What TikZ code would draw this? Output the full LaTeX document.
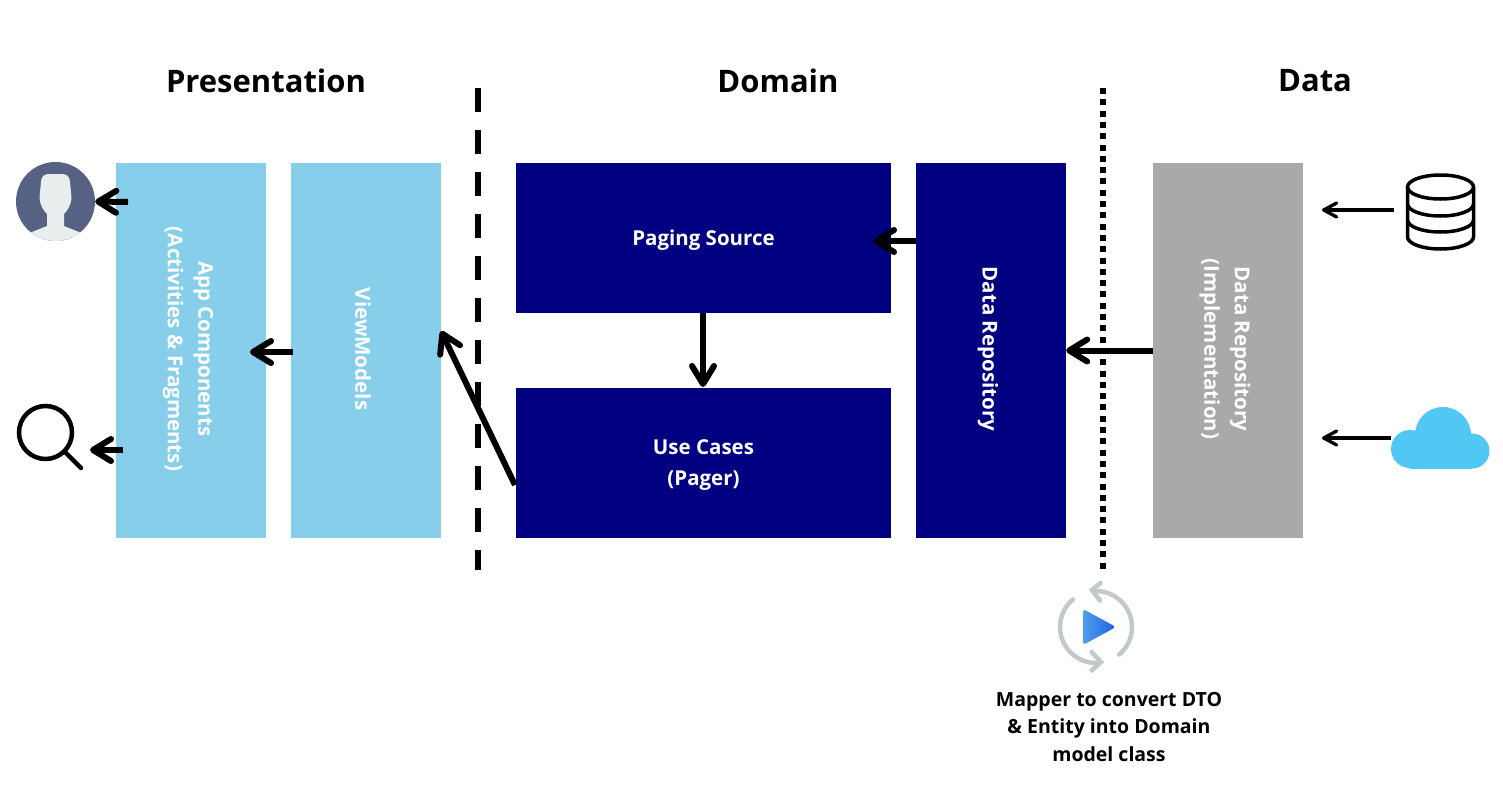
\documentclass[tikz,border=0pt]{standalone}
\usepackage{xcolor}
\usepackage{fontspec}
\setmainfont{Open Sans}
\usetikzlibrary{arrows.meta}
\definecolor{lightbox}{HTML}{87CEEB}
\definecolor{navybox}{HTML}{000080}
\definecolor{greybox}{HTML}{A9A9A9}
\definecolor{userbg}{HTML}{566183}
\definecolor{userfg}{HTML}{E8EDEE}
\definecolor{cloudblue}{HTML}{50C8F3}
\definecolor{syncgrey}{HTML}{C2C9CB}
\definecolor{playlight}{HTML}{4F9FEA}
\definecolor{playdark}{HTML}{1F60E2}
\tikzset{
  title/.style={font=\bfseries\fontsize{31}{36}\selectfont, anchor=center},
  tierbox/.style={minimum width=150pt, minimum height=375pt, inner sep=0pt},
  widebox/.style={tierbox, minimum width=375pt, minimum height=150pt, fill=navybox},
  boxtext/.style={text=white, align=center, inner sep=0pt, font=\bfseries\fontsize{20.5}{30.5}\selectfont},
  sidetext/.style={boxtext, rotate=-90, xshift=-1.5pt, yshift=-3pt},
  flow/.style={line width=6pt, -{Straight Barb[round, length=18pt, width=22pt, line width=6pt]}},
  feed/.style={line width=3.3pt, -{Straight Barb[round, length=13pt, width=14pt, line width=3.3pt]}},
  syncring/.style={syncgrey, line width=4.5pt, line cap=round}
}

\begin{document}
\begin{tikzpicture}[x=1pt, y=-1pt]
  \useasboundingbox (0,0) rectangle (1503,800);
  \fill[white] (0,0) rectangle (1503,800);

  % Column titles
  \node[title] (presentation) at (266,81) {Presentation};
  \node[title] (domain) at (778,81) {Domain};
  \node[title] (data) at (1315,81) {Data};

  % Layer dividers
  \coordinate (dashtop) at (478,88);
  \coordinate (dashend) at (478,570);
  \coordinate (dottop) at (1103,88);
  \coordinate (dotend) at (1103,570);
  \draw[line width=6pt, dash pattern=on 24pt off 18pt] (dashtop) -- (dashend);
  \draw[line width=6pt, dash pattern=on 6pt off 5.3pt] (dottop) -- (dotend);

  % Boxes
  \node[tierbox, fill=lightbox, label={[sidetext]center:{App Components\\(Activities \& Fragments)}}] (app) at (191,350.5) {};
  \node[tierbox, fill=lightbox, label={[sidetext]center:{ViewModels}}] (viewmodels) at (366,350.5) {};
  \node[widebox, label={[boxtext, yshift=-2pt]center:{Paging Source}}] (paging) at (703.5,238) {};
  \node[widebox, label={[boxtext, yshift=-2pt]center:{Use Cases\\(Pager)}}] (usecases) at (703.5,463) {};
  \node[tierbox, fill=navybox, label={[sidetext]center:{Data Repository}}] (repo) at (991,350.5) {};
  \node[tierbox, fill=greybox, label={[sidetext]center:{Data Repository\\(Implementation)}}] (impl) at (1228,350.5) {};

  % User icon
  \node[circle, fill=userbg, minimum size=79pt, inner sep=0pt] (user) at (55.5,201.5) {};
  \begin{scope}
    \clip (55.5,201.5) circle (39.5);
    \fill[userfg] (47,214) -- (47,226) -- (27,234) -- (27,245) -- (84,245) -- (84,234) -- (64,226) -- (64,214)
      .. controls (68,210) and (71,205) .. (71.5,198)
      -- (70,182) .. controls (70,176) and (66,174) .. (62,174)
      -- (49,174) .. controls (45,174) and (41,176) .. (41,182)
      -- (39.5,198) .. controls (40,205) and (43,210) .. (47,214) -- cycle;
  \end{scope}

  % Search icon
  \node[circle, draw, line width=4.5pt, minimum size=53pt, inner sep=0pt] (search) at (45.5,432.5) {};
  \coordinate (handle) at (81,468);
  \draw[line width=4.5pt, line cap=round] (search.-45) -- (handle);

  % Database icon
  \begin{scope}[line width=3.5pt]
    \draw (1440.5,187) ellipse (33 and 12);
    \draw (1407.5,187) -- (1407.5,237) arc[start angle=180, end angle=0, x radius=33, y radius=12] -- (1473.5,187);
    \draw (1407.5,204) arc[start angle=180, end angle=0, x radius=33, y radius=12];
    \draw (1407.5,220) arc[start angle=180, end angle=0, x radius=33, y radius=12];
  \end{scope}

  % Cloud icon
  \fill[cloudblue] (1443,435) circle (28);
  \fill[cloudblue] (1410,449) circle (19);
  \fill[cloudblue] (1472,451) circle (17.5);
  \fill[cloudblue] (1410,445) rectangle (1472,468.5);
  \coordinate (cloud) at (1391,438);

  % Mapper icon
  \coordinate (ringstart) at (1119.1,654.6);
  \coordinate (ringother) at (1072.9,599.4);
  \draw[syncring] (ringstart) arc[start angle=50, end angle=-94, radius=36];
  \draw[syncring] (ringother) arc[start angle=230, end angle=86, radius=36];
  \draw[syncring] (1100.5,583) -- (1092,590) -- (1100,600.5);
  \draw[syncring] (1091.5,652) -- (1101,662) -- (1091.5,670.5);
  \shade[left color=playlight, right color=playdark, rounded corners=3pt]
    (1083,609) -- (1116,627) -- (1083,645) -- cycle;

  \node[font=\bfseries\fontsize{19.5}{27.5}\selectfont, align=center] (mapper) at (1109,727)
    {Mapper to convert DTO\\\& Entity into Domain\\model class};

  % Free arrow ends
  \coordinate (usertail) at (128,202);
  \coordinate (searchtail) at (123,450);
  \coordinate (searchhead) at (90,450);
  \coordinate (apphead) at (250,352);
  \coordinate (vmtail) at (293,352);
  \coordinate (vmhead) at (441,331);
  \coordinate (uctail) at (515,485);
  \coordinate (pagtail) at (703,313);
  \coordinate (uchead) at (703,387);
  \coordinate (repotail) at (916,241);
  \coordinate (paghead) at (873,241);
  \coordinate (dbtail) at (1394,210);
  \coordinate (dbhead) at (1322,210);
  \coordinate (cloudhead) at (1322,438);

  % Arrows
  \draw[flow] (usertail) -- (user.east);
  \draw[flow] (searchtail) -- (searchhead);
  \draw[flow] (vmtail) -- (apphead);
  \draw[flow] (uctail) -- (vmhead);
  \draw[flow] (pagtail) -- (uchead);
  \draw[flow] (repotail) -- (paghead);
  \draw[flow] (impl.west) -- (repo.east);
  \draw[feed] (dbtail) -- (dbhead);
  \draw[feed] (cloud) -- (cloudhead);
\end{tikzpicture}
\end{document}
